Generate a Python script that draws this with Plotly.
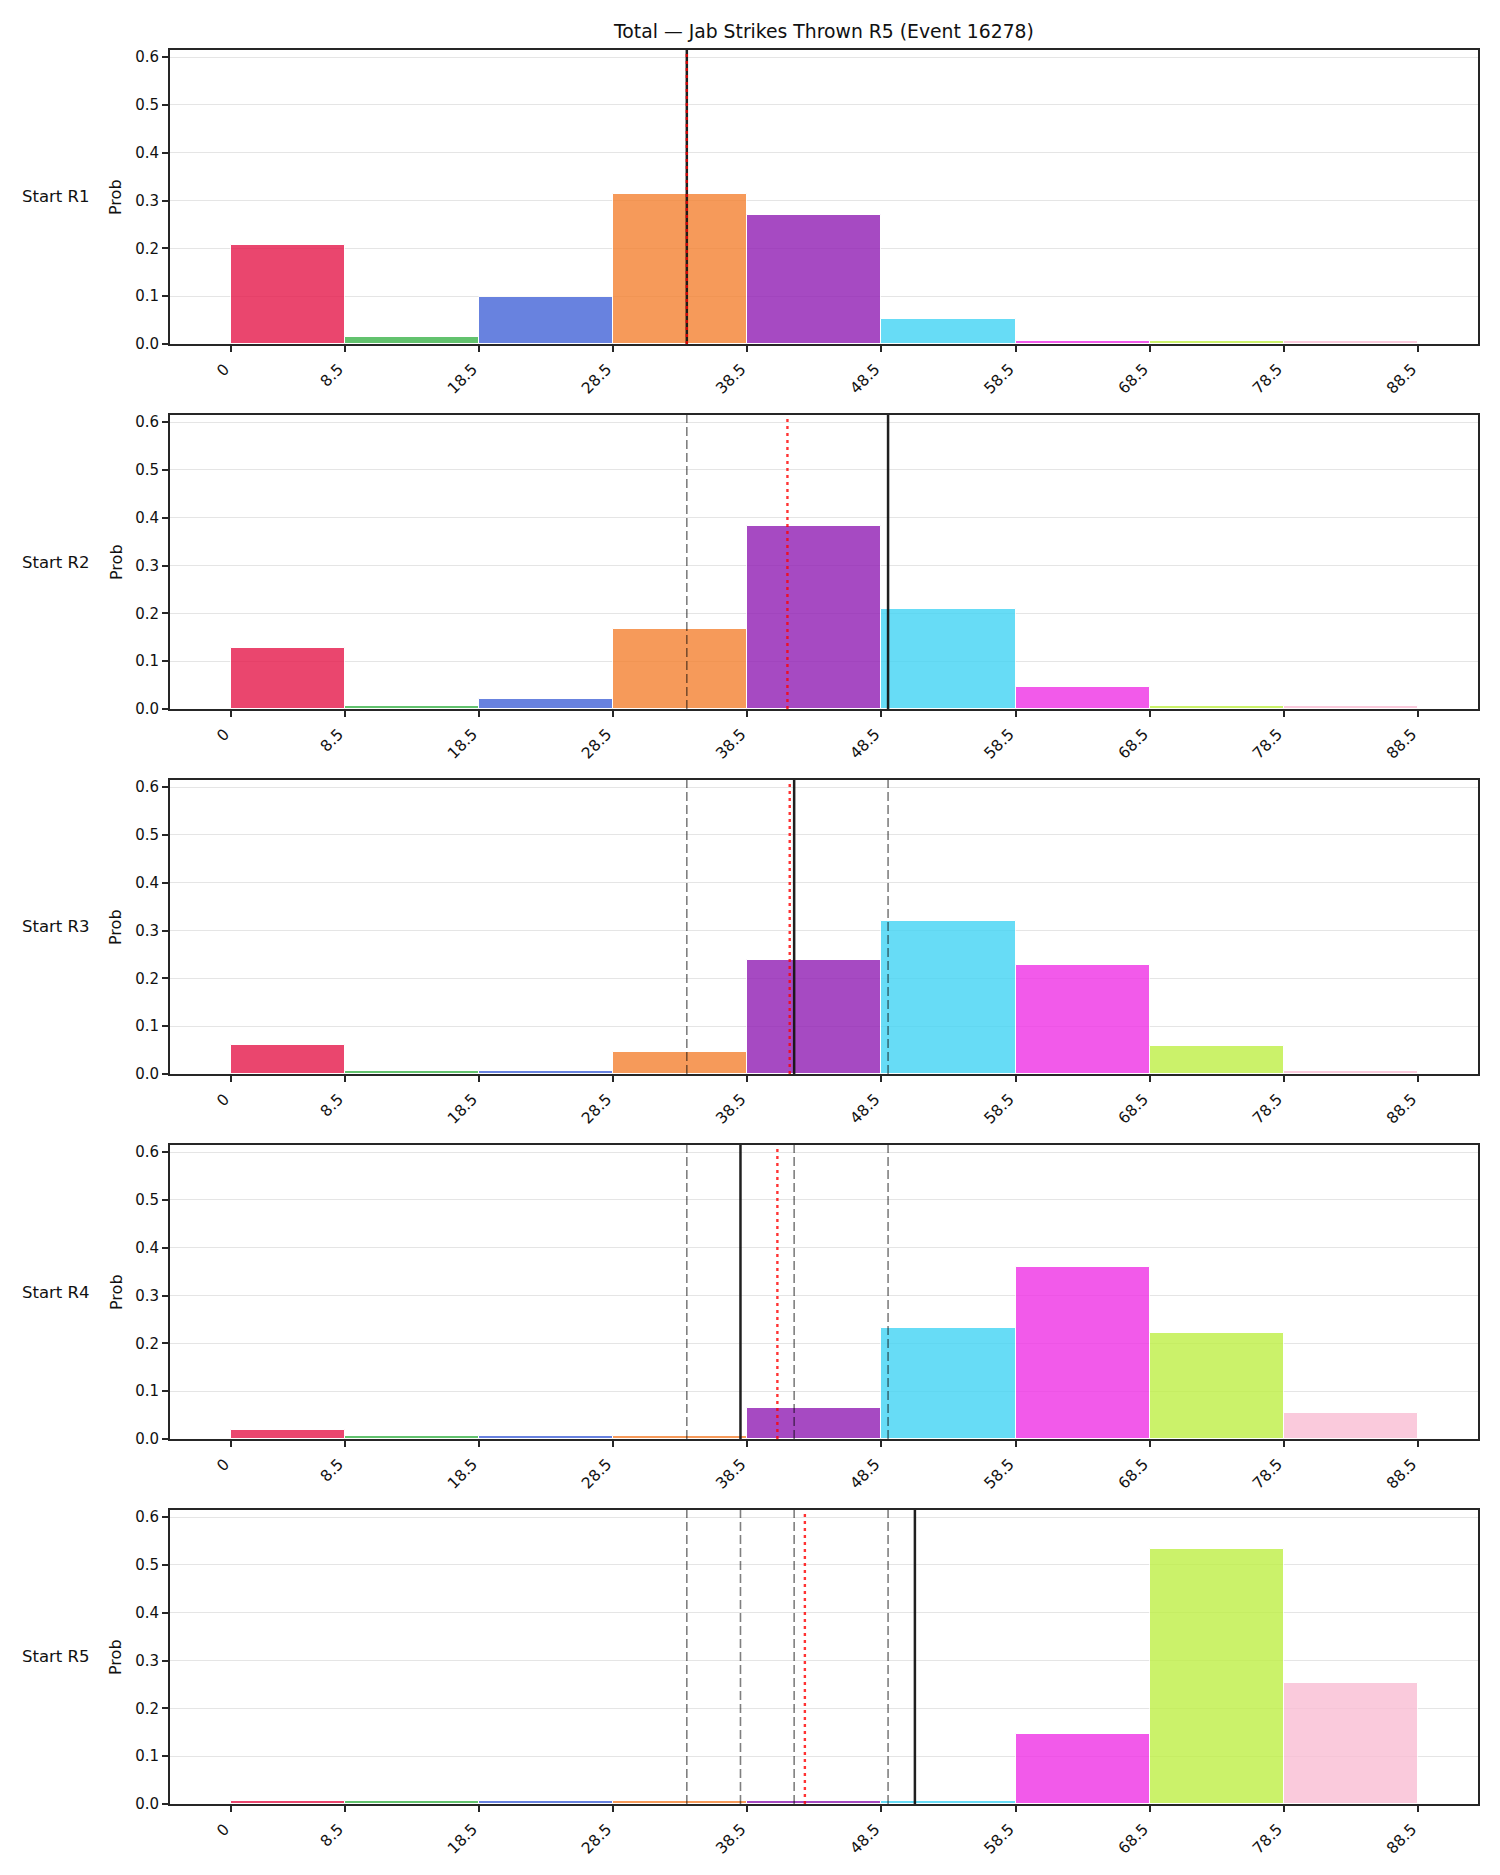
import plotly.graph_objects as go

# ---------------- data ----------------
round_labels = ["Start R1", "Start R2", "Start R3", "Start R4", "Start R5"]
bin_edges = [0, 8.5, 18.5, 28.5, 38.5, 48.5, 58.5, 68.5, 78.5, 88.5]
tick_labels = ["0", "8.5", "18.5", "28.5", "38.5", "48.5", "58.5", "68.5", "78.5", "88.5"]
bar_colors = ["#e6194b", "#3cb44b", "#4363d8", "#f58231", "#911eb4",
              "#42d4f4", "#f032e6", "#bfef45", "#fabed4"]

probs_r1 = [0.207, 0.014, 0.098, 0.3135, 0.2695, 0.0517, 0.006, 0.006, 0.006]
probs_r2 = [0.1277, 0.006, 0.021, 0.1675, 0.383, 0.209, 0.046, 0.006, 0.006]
probs_r3 = [0.060, 0.006, 0.006, 0.0454, 0.238, 0.320, 0.228, 0.058, 0.006]
probs_r4 = [0.019, 0.006, 0.006, 0.006, 0.064, 0.232, 0.360, 0.221, 0.054]
probs_r5 = [0.006, 0.006, 0.006, 0.006, 0.006, 0.006, 0.146, 0.5335, 0.2528]
probs_by_round = [probs_r1, probs_r2, probs_r3, probs_r4, probs_r5]

line_current = [34.0, 49.0, 42.0, 38.0, 51.0]   # solid black
line_mean = [34.0, 41.5, 41.67, 40.75, 42.8]     # red dotted

title_text = "Total \u2014 Jab Strikes Thrown R5 (Event 16278)"
y_label = "Prob"

# ---------------- layout helpers ----------------
W, H = 1500, 1875
x_left, x_right = 170, 1478
panel_tops = [50, 415, 780, 1145, 1510]
panel_h = 294
FONT = "DejaVu Sans"
SPINE = "#262626"

fig = go.Figure()

centers = [(bin_edges[i] + bin_edges[i + 1]) / 2 for i in range(len(bin_edges) - 1)]
widths = [bin_edges[i + 1] - bin_edges[i] for i in range(len(bin_edges) - 1)]

layout_axes = {}
annotations = []
for r, probs in enumerate(probs_by_round):
    n = r + 1
    xa = "x" if n == 1 else f"x{n}"
    ya = "y" if n == 1 else f"y{n}"
    fig.add_trace(go.Bar(
        x=centers, y=probs, width=widths,
        marker=dict(color=bar_colors, opacity=0.8, line=dict(color="white", width=1)),
        xaxis=xa, yaxis=ya, showlegend=False, hoverinfo="x+y",
    ))
    top = panel_tops[r]
    bot = top + panel_h
    y0 = 1 - bot / H
    y1 = 1 - top / H
    layout_axes[f"xaxis{'' if n == 1 else n}"] = dict(
        domain=[x_left / W, x_right / W], anchor=ya, automargin=False,
        range=[-4.52, 92.97], tickmode="array",
        tickvals=bin_edges, ticktext=tick_labels, tickangle=-45,
        ticklabelshift=-6, ticklabelstandoff=2,
        showline=True, mirror=True, linecolor=SPINE, linewidth=2,
        ticks="outside", ticklen=6, tickwidth=1.6, tickcolor=SPINE,
        showgrid=False, zeroline=False,
        tickfont=dict(family=FONT, size=15.5, color="#111"),
    )
    layout_axes[f"yaxis{'' if n == 1 else n}"] = dict(
        domain=[y0, y1], anchor=xa, range=[0, 0.615], automargin=False,
        tickmode="array", tickvals=[0, 0.1, 0.2, 0.3, 0.4, 0.5, 0.6],
        ticktext=["0.0", "0.1", "0.2", "0.3", "0.4", "0.5", "0.6"],
        showline=True, mirror=True, linecolor=SPINE, linewidth=2,
        ticks="outside", ticklen=6, tickwidth=1.6, tickcolor=SPINE,
        showgrid=True, gridcolor="#e5e5e5", gridwidth=1, zeroline=False,
        tickfont=dict(family=FONT, size=15, color="#111"),
    )
    ymid = (y0 + y1) / 2
    annotations.append(dict(
        text=round_labels[r], xref="paper", yref="paper", x=92 / W, y=ymid,
        xanchor="right", yanchor="middle", showarrow=False,
        font=dict(family=FONT, size=16.5, color="#111"),
    ))
    annotations.append(dict(
        text=y_label, xref="paper", yref="paper", x=116 / W, y=ymid,
        xanchor="center", yanchor="middle", showarrow=False, textangle=-90,
        font=dict(family=FONT, size=16, color="#111"),
    ))

    # previous rounds' lines (gray dashed)
    for prev in line_current[:r]:
        fig.add_shape(type="line", xref=xa, yref=f"{ya} domain",
                      x0=prev, x1=prev, y0=0, y1=1,
                      line=dict(color="rgba(0,0,0,0.5)", width=1.6, dash="9px,4px"))
    # current line (solid black)
    fig.add_shape(type="line", xref=xa, yref=f"{ya} domain",
                  x0=line_current[r], x1=line_current[r], y0=0, y1=1,
                  line=dict(color="rgba(20,20,20,0.95)", width=2.5))
    # running mean (red dotted)
    fig.add_shape(type="line", xref=xa, yref=f"{ya} domain",
                  x0=line_mean[r], x1=line_mean[r], y0=0, y1=1,
                  line=dict(color="rgba(255,0,0,0.8)", width=2.4, dash="3px,4px"))

fig.update_layout(
    width=W, height=H, autosize=False,
    margin=dict(l=0, r=0, t=0, b=0),
    paper_bgcolor="white", plot_bgcolor="white",
    bargap=0,
    title=dict(text=title_text, x=824 / W, y=1 - 31 / H, xanchor="center", yanchor="middle",
               automargin=False,
               font=dict(family=FONT, size=18.8, color="#111")),
    annotations=annotations,
    **layout_axes,
)

fig.write_html("out.html")
